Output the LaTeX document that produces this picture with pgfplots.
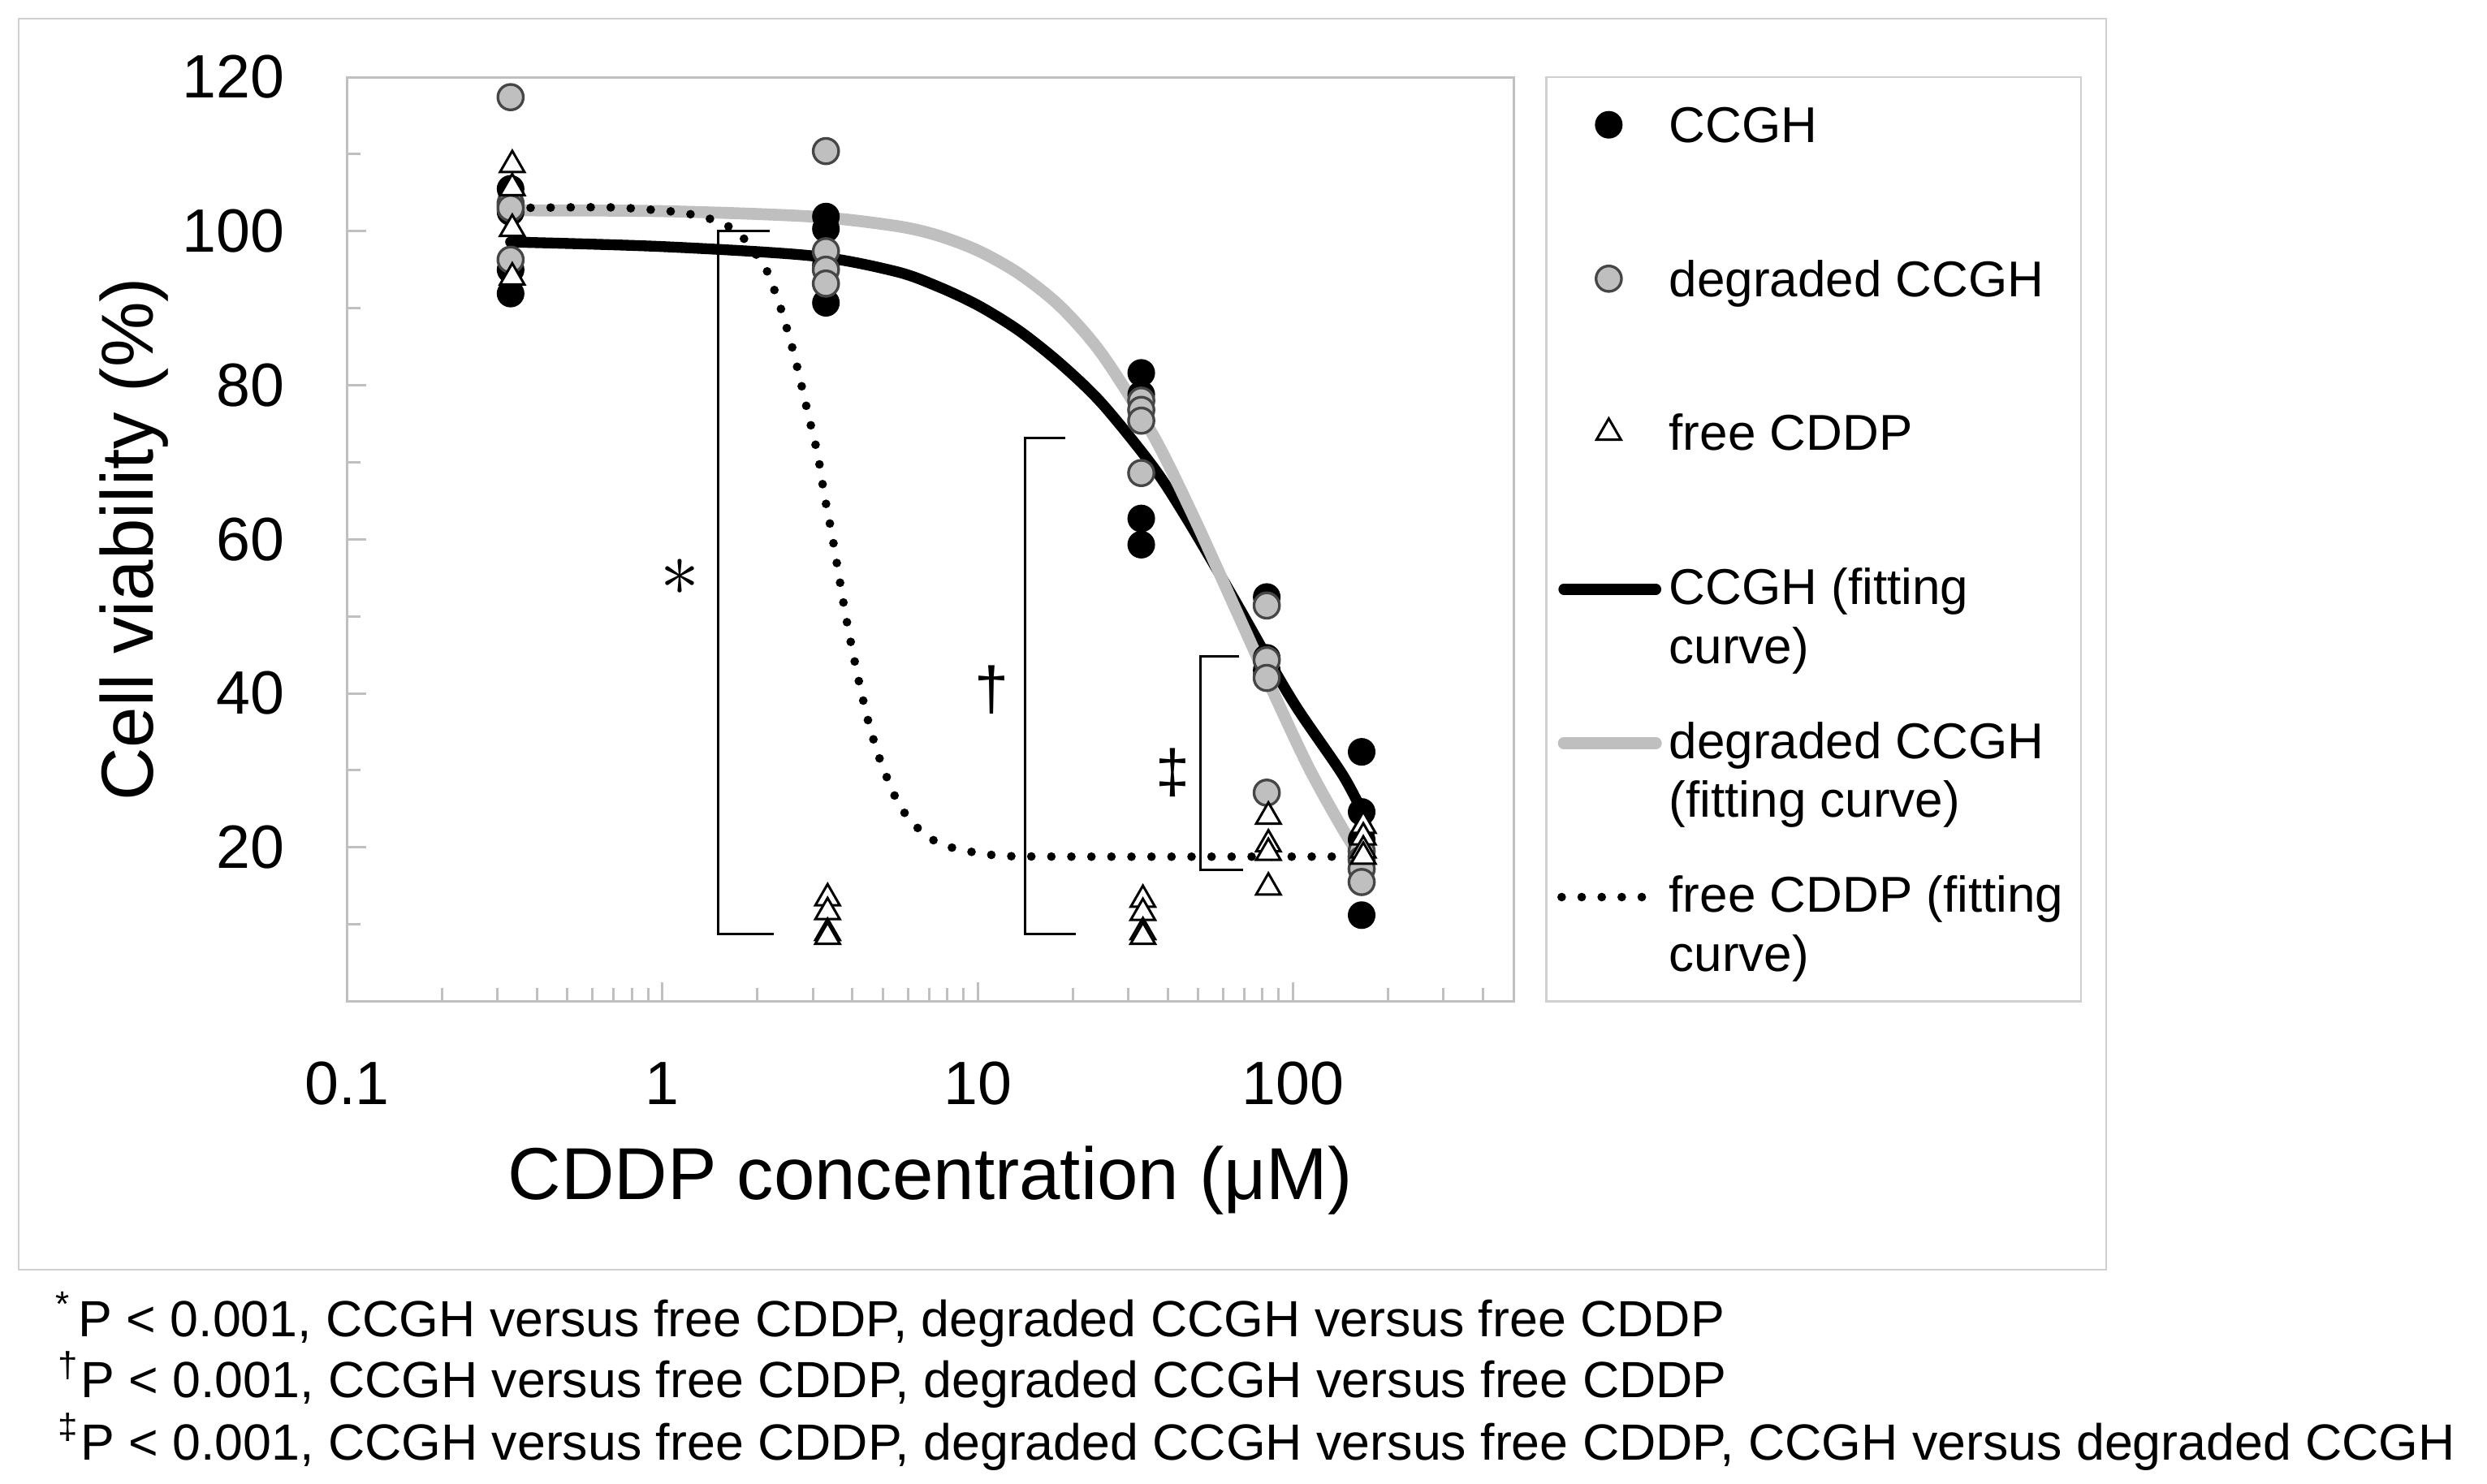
\documentclass[border=0pt]{standalone}
\usepackage{fontspec}
\setmainfont{Liberation Sans}
\usepackage{pgfplots}
\pgfplotsset{compat=1.18}
\definecolor{lgray}{RGB}{191,191,191}
\definecolor{framegray}{RGB}{208,208,208}
\definecolor{axgray}{RGB}{192,192,192}
\definecolor{edgegray}{RGB}{70,70,70}
\pgfplotsset{
  markleg/.style={legend image code/.code={\path (0pt,-2.5pt) (19pt,2.5pt); \draw[##1] plot coordinates {(9.3pt,0pt)};}},
  lineleg/.style={legend image code/.code={\draw[##1] (1pt,-0.5pt) -- (18pt,-0.5pt);}},
  dotleg/.style={legend image code/.code={\draw[##1] (0.6pt,-0.5pt) -- (16pt,-0.5pt);}},
}
\begin{document}
\begin{tikzpicture}
\useasboundingbox (-64.125pt,-89.025pt) rectangle (395.325pt,185.025pt);
\draw[framegray, line width=0.35pt] (-60.675pt,-49.575pt) rectangle (324.975pt,181.575pt);
\draw[framegray, line width=0.35pt] (221.55pt,0pt) rectangle (320.325pt,170.73pt);
\begin{axis}[
  at={(0pt,0pt)}, anchor=south west,
  scale only axis, width=215.475pt, height=170.775pt,
  xmode=log, xmin=0.1, xmax=500, ymin=0, ymax=120,
  xtick={0.1,1,10,100}, xticklabels={0.1,1,10,100},
  minor xtick={0.2,0.3,0.4,0.5,0.6,0.7,0.8,0.9,2,3,4,5,6,7,8,9,20,30,40,50,60,70,80,90,200,300,400},
  ytick={20,40,60,80,100,120}, minor ytick={10,30,50,70,90,110},
  tick align=inside, major tick length=3.6pt, minor tick length=2.5pt,
  tick pos=left,
  axis line style={axgray, line width=0.45pt},
  tick style={axgray, line width=0.45pt},
  tick label style={font=\fontsize{11.3}{13}\selectfont},
  /pgf/number format/assume math mode=true,
  xticklabel style={anchor=base, inner sep=0pt, yshift=-19pt},
  yticklabel style={anchor=east, inner sep=0pt, xshift=-11.4pt},
  xlabel={CDDP concentration (μM)}, ylabel={Cell viability (\%)},
  label style={font=\fontsize{13.6}{16}\selectfont},
  xlabel style={at={(axis description cs:0.5,-0.2139)}, anchor=base, inner sep=0pt},
  ylabel style={at={(axis description cs:-0.1667,0.5)}, anchor=base, inner sep=0pt},
  legend style={at={(1.0376,0.9678)}, anchor=north west, draw=none, fill=none,
    inner sep=0pt, outer sep=0pt, row sep=21.84pt, column sep=1.25pt,
    font=\fontsize{9.3}{10.9}\selectfont,
    nodes={inner sep=0pt, text height=6.6pt, text depth=0pt}},
  legend cell align=left,
]
% CCGH (black circles)
\addplot[only marks, mark=*, mark size=2.35pt, mark options={fill=black, draw=black, line width=0.4pt}, markleg]
coordinates {
(0.33,105.5)(0.33,102.5)(0.33,95.0)(0.33,91.9)
(3.3,101.9)(3.3,100.3)(3.3,95.6)(3.3,90.7)
(33,81.6)(33,78.8)(33,62.7)(33,59.3)
(82.5,52.5)(82.5,44.6)(82.5,42.2)(82.5,43.0)
(165,32.4)(165,24.6)(165,21.0)(165,11.2)
};
\addlegendentry{CCGH}
% degraded CCGH (gray circles)
\addplot[only marks, mark=*, mark size=2.35pt, mark options={fill=lgray, draw=edgegray, line width=0.5pt}, markleg]
coordinates {
(0.33,117.4)(0.33,103.6)(0.33,103.0)(0.33,96.3)
(3.3,110.4)(3.3,97.4)(3.3,95.0)(3.3,93.2)
(33,78.0)(33,76.8)(33,75.4)(33,68.6)
(82.5,51.4)(82.5,44.3)(82.5,42.0)(82.5,27.1)
(165,19.5)(165,18.4)(165,17.2)(165,15.5)
};
\addlegendentry{degraded CCGH}
% free CDDP (open triangles)
\addplot[only marks, mark=triangle*, mark size=2.6pt, mark options={fill=white, draw=black, line width=0.45pt}, markleg]
coordinates {
(0.334,108.6)(0.334,105.6)(0.334,100.3)(0.334,94.0)
(3.34,13.4)(3.34,11.6)(3.34,8.9)(3.34,8.4)
(33.4,13.2)(33.4,11.5)(33.4,9.0)(33.4,8.4)
(83.5,24.0)(83.5,20.4)(83.5,19.3)(83.5,14.8)
(167,22.8)(167,21.3)(167,19.6)(167,18.8)
};
\addlegendentry{free CDDP}
% CCGH fitting curve
\addplot[black, line width=2pt, line cap=round, smooth, mark=none, lineleg]
coordinates {
(0.33,98.6)(1,98.0)(2.98,96.8)(5.46,94.8)(7.39,92.9)(9.99,90.4)(13.5,87.1)
(18.3,82.8)(24.8,77.6)(36,69.4)(46,62.7)(65.1,52.2)(87.5,42.9)(104.8,37.6)
(143.2,29.5)(165,24.8)
};
\addlegendentry{\parbox[t]{80pt}{CCGH (fitting\\curve)}}
% degraded CCGH fitting curve
\addplot[lgray, line width=2.2pt, line cap=round, smooth, mark=none, lineleg]
coordinates {
(0.33,102.7)(1,102.6)(2.98,101.9)(5.46,100.7)(7.39,99.5)(9.99,97.5)(13.5,94.5)
(18.3,90.2)(24.8,84.0)(36,73.5)(48.4,62.9)(65.1,51.3)(87.5,39.7)(112.3,30.3)
(143.2,22.5)(165,18.5)
};
\addlegendentry{\parbox[t]{80pt}{degraded CCGH\\(fitting curve)}}
% free CDDP fitting curve
\addplot[black, line width=1.6pt, line cap=round, dash pattern=on 0pt off 3.7pt, smooth, mark=none, dotleg]
coordinates {
(0.33,103.0)(0.677,103.1)(1.045,102.6)(1.19,102.3)(1.365,101.8)(1.569,100.9)(1.772,99.5)
(2.101,95.5)(2.229,93.1)(2.342,90.7)(2.447,88.2)(2.545,85.8)(2.637,83.4)(2.728,80.9)
(2.912,75.9)(3.108,71.0)(3.258,65.9)(3.438,60.9)(3.611,55.8)(3.786,50.8)(3.995,45.8)
(4.238,40.8)(4.534,35.8)(4.935,31.0)(5.524,26.2)(5.956,24.1)(6.572,22.2)(7.4,20.7)
(8.414,19.9)(11.2,19.0)(17.7,18.8)(165,18.8)
};
\addlegendentry{\parbox[t]{80pt}{free CDDP (fitting\\curve)}}
% significance brackets
\addplot[black, line width=0.45pt, sharp plot, mark=none, forget plot]
coordinates {(2.194,100)(1.5,100)(1.5,8.8)(2.256,8.8)};
\addplot[black, line width=0.45pt, sharp plot, mark=none, forget plot]
coordinates {(18.98,73.1)(14.16,73.1)(14.16,8.8)(20.5,8.8)};
\addplot[black, line width=0.45pt, sharp plot, mark=none, forget plot]
coordinates {(67.3,44.8)(50.8,44.8)(50.8,17.1)(69.3,17.1)};
\node[inner sep=0pt, font=\fontsize{15.5}{16}\selectfont] at (axis cs:1.137,55.1) {$\ast$};
\node[inner sep=0pt, font=\fontsize{11.3}{13}\selectfont] at (axis cs:11.1,40.4) {†};
\node[inner sep=0pt, font=\fontsize{11.3}{13}\selectfont] at (axis cs:41.5,29.7) {‡};
\end{axis}
\begin{scope}[every node/.style={anchor=base west, inner sep=0pt, font=\fontsize{9.4}{11}\selectfont}]
\node at (-54.1pt,-61.98pt) {\textsuperscript{*}\hspace{1.2pt}P < 0.001, CCGH versus free CDDP, degraded CCGH versus free CDDP};
\node at (-53.6pt,-73.23pt) {\textsuperscript{†}P < 0.001, CCGH versus free CDDP, degraded CCGH versus free CDDP};
\node at (-53.6pt,-84.72pt) {\textsuperscript{‡}P < 0.001, CCGH versus free CDDP, degraded CCGH versus free CDDP, CCGH versus degraded CCGH};
\end{scope}
\end{tikzpicture}
\end{document}
